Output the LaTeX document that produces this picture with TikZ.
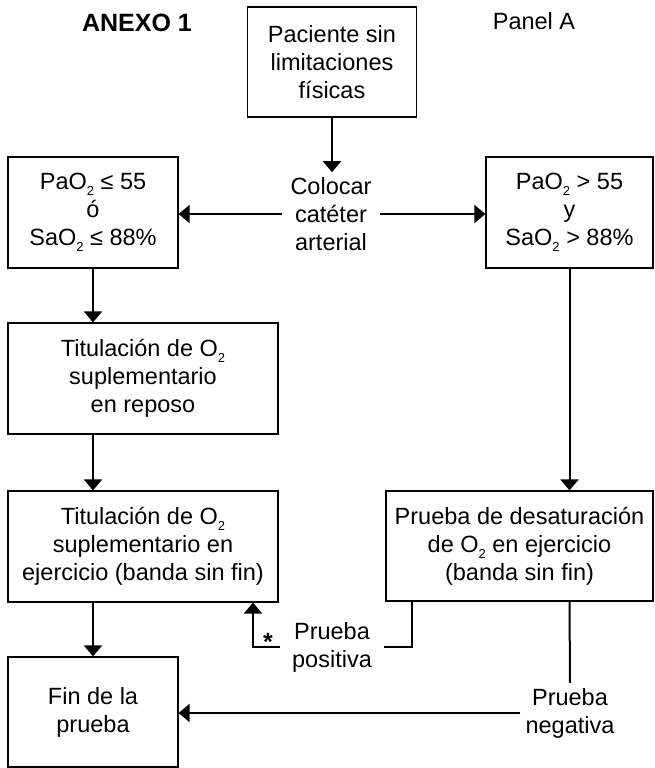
\documentclass[tikz,border=0pt]{standalone}
\usepackage{fontspec}
\setmainfont{Liberation Sans}
\usetikzlibrary{arrows.meta}
\newcommand{\subdos}{\raisebox{-6pt}{\fontsize{13}{13}\selectfont 2}}
\tikzset{
    caja/.style={draw, line width=1.2pt, align=center, inner sep=0pt,
        font=\fontsize{23.5}{28}\selectfont},
    etiqueta/.style={align=center, inner sep=5pt,
        font=\fontsize{23.5}{28}\selectfont},
    flecha/.style={line width=2pt, -{Triangle[width=18pt,length=11pt]}},
    linea/.style={line width=2pt}
}

\begin{document}
\begin{tikzpicture}[x=1pt,y=-1pt]
        \useasboundingbox (0,0) rectangle (654,768);
        % Titulos
        \node[etiqueta, font=\fontsize{25}{30}\selectfont\bfseries] (anexo) at (137,23) {ANEXO 1};
        \node[etiqueta] (panel) at (534,21) {Panel A};
        % Cajas
        \node[caja, minimum width=169, minimum height=110] (paciente) at (332,62) {Paciente sin\\limitaciones\\físicas};
        \node[caja, minimum width=170, minimum height=111] (izq) at (93,212.5) {PaO\subdos{} ≤ 55\\ó\\SaO\subdos{} ≤ 88\%};
        \node[caja, minimum width=167, minimum height=111] (der) at (569.5,212.5) {PaO\subdos{} > 55\\y\\SaO\subdos{} > 88\%};
        \node[caja, minimum width=270, minimum height=111] (reposo) at (143,378.5) {Titulación de O\subdos\\suplementario\\en reposo};
        \node[caja, minimum width=270, minimum height=111] (ejercicio) at (143,546.5) {Titulación de O\subdos\\suplementario en\\ejercicio (banda sin fin)};
        \node[caja, minimum width=267, minimum height=110] (desat) at (519.5,546) {Prueba de desaturación\\de O\subdos{} en ejercicio\\(banda sin fin)};
        \node[caja, minimum width=170, minimum height=110] (fin) at (93,712) {Fin de la\\prueba};
        % Etiquetas
        \node[etiqueta, inner xsep=8pt] (colocar) at (331,214) {Colocar\\catéter\\arterial};
        \node[etiqueta, inner xsep=12pt] (positiva) at (332,647) {Prueba\\positiva};
        \node[etiqueta] (negativa) at (570,713) {Prueba\\negativa};
        \node[etiqueta, inner sep=0pt, font=\fontsize{25}{30}\selectfont\bfseries] (asterisco) at (268,642) {*};
        \coordinate (pospie) at (412,0);
        \coordinate (retorno) at (253,0);
        % Flechas
        \draw[flecha] (paciente.south) -- (paciente.south |- colocar.north);
        \draw[flecha] (colocar.west) -- (colocar.west -| izq.east);
        \draw[flecha] (colocar.east) -- (colocar.east -| der.west);
        \draw[flecha] (izq.south) -- (izq.south |- reposo.north);
        \draw[flecha] (reposo.south -| izq.south) -- (ejercicio.north -| izq.south);
        \draw[flecha] (ejercicio.south -| fin.north) -- (fin.north);
        \draw[flecha] (der.south) -- (der.south |- desat.north);
        % Prueba positiva
        \draw[linea] (desat.south -| pospie) |- (positiva.east);
        \draw[flecha] (positiva.west) -| (ejercicio.south -| retorno);
        % Prueba negativa
        \draw[linea] (der.south |- desat.south) -- (negativa.north);
        \draw[flecha] (negativa.west) -- (negativa.west -| fin.east);
    \end{tikzpicture}
\end{document}
